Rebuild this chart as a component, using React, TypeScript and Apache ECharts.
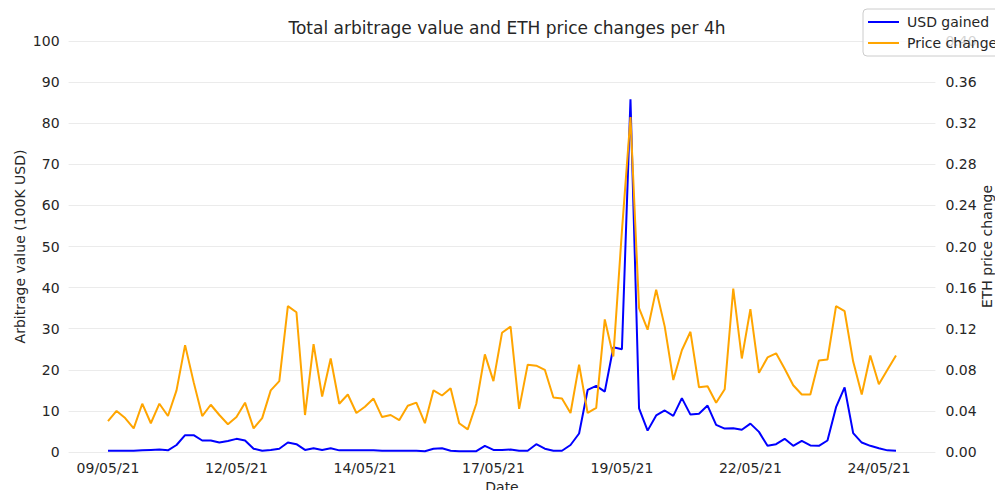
import React, { useEffect, useRef } from "react";
import * as echarts from "echarts";

// x positions are 4h steps counted from 09/05/21 12:00
const tickSteps = [0, 15, 30, 45, 60, 75, 90];
const tickLabels = ["09/05/21", "12/05/21", "14/05/21", "17/05/21", "19/05/21", "22/05/21", "24/05/21"];

// USD gained (100K USD), one value per 4h
const usdGained = [
  0.3, 0.3, 0.3, 0.3, 0.4, 0.5, 0.6, 0.4, 1.7, 4.1,
  4.1, 2.8, 2.8, 2.3, 2.7, 3.2, 2.8, 0.8, 0.3, 0.5,
  0.8, 2.3, 1.9, 0.5, 0.9, 0.5, 0.9, 0.4, 0.4, 0.4,
  0.4, 0.4, 0.3, 0.3, 0.3, 0.3, 0.3, 0.2, 0.8, 0.9,
  0.3, 0.2, 0.2, 0.2, 1.5, 0.5, 0.5, 0.6, 0.3, 0.3,
  1.9, 0.8, 0.3, 0.3, 1.7, 4.5, 15.1, 16.1, 14.7, 25.5,
  25.0, 85.8, 10.6, 5.2, 8.9, 10.1, 8.8, 13.1, 9.1, 9.3,
  11.3, 6.6, 5.7, 5.8, 5.4, 6.9, 4.9, 1.5, 1.9, 3.2,
  1.5, 2.7, 1.6, 1.5, 2.8, 10.9, 15.7, 4.6, 2.3, 1.5,
  0.9, 0.4, 0.3,
];

// ETH price change, one value per 4h
const priceChange = [
  0.030, 0.040, 0.033, 0.023, 0.047, 0.028, 0.047, 0.035, 0.060, 0.104,
  0.068, 0.035, 0.046, 0.036, 0.027, 0.034, 0.048, 0.023, 0.033, 0.060,
  0.069, 0.142, 0.136, 0.036, 0.105, 0.054, 0.091, 0.047, 0.056, 0.038,
  0.044, 0.052, 0.034, 0.036, 0.031, 0.045, 0.048, 0.028, 0.060, 0.055,
  0.062, 0.028, 0.022, 0.047, 0.095, 0.069, 0.116, 0.122, 0.042, 0.085,
  0.084, 0.080, 0.053, 0.052, 0.038, 0.085, 0.038, 0.043, 0.129, 0.093,
  0.215, 0.326, 0.140, 0.119, 0.158, 0.122, 0.070, 0.099, 0.117, 0.063,
  0.064, 0.048, 0.061, 0.159, 0.091, 0.139, 0.077, 0.092, 0.096, 0.081,
  0.065, 0.056, 0.056, 0.089, 0.090, 0.142, 0.137, 0.088, 0.056, 0.094,
  0.066, 0.080, 0.094,
];

const FONT = "DejaVu Sans";
const TXT = "#262626";

export default function App() {
  const ref = useRef<HTMLDivElement>(null);
  useEffect(() => {
    document.body.style.margin = "0";
    if (!ref.current) return;
    const chart = echarts.init(ref.current, undefined, { renderer: "svg" });
    const n = usdGained.length;
    const xMin = -0.05 * (n - 1);
    const xMax = (n - 1) * 1.05;
    chart.setOption({
      animation: false,
      backgroundColor: "#ffffff",
      textStyle: { fontFamily: FONT },
      title: {
        text: "Total arbitrage value and ETH price changes per 4h",
        left: 502,
        top: 14,
        textAlign: "center",
        textStyle: { fontFamily: FONT, fontSize: 17, fontWeight: "normal", color: TXT },
      },
      legend: {
        left: 863,
        top: 9,
        orient: "vertical",
        padding: [6, 6, 6, 5],
        itemWidth: 31,
        itemHeight: 2,
        itemGap: 7,
        backgroundColor: "rgba(255,255,255,0.8)",
        borderColor: "#cccccc",
        borderWidth: 1,
        borderRadius: 4,
        textStyle: { fontFamily: FONT, fontSize: 14, color: TXT, lineHeight: 14, padding: [0, 0, 0, 3] },
        data: [
          { name: "USD gained", icon: "rect" },
          { name: "Price change", icon: "rect" },
        ],
      },
      grid: {
        left: 68.6,
        right: 59.6,
        top: 41,
        bottom: 38,
        containLabel: false,
        outerBoundsMode: "none",
      },
      xAxis: {
        type: "value",
        min: xMin,
        max: xMax,
        name: "Date",
        nameLocation: "middle",
        nameGap: 28,
        nameMoveOverlap: false,
        nameTextStyle: { fontFamily: FONT, fontSize: 14, color: TXT },
        axisLine: { show: false },
        axisTick: { show: false },
        splitLine: { show: false },
        axisLabel: {
          customValues: tickSteps,
          fontFamily: FONT,
          fontSize: 14,
          color: TXT,
          margin: 9,
          formatter: (v: number) => {
            const k = tickSteps.findIndex((s) => Math.abs(s - v) < 1e-6);
            return k >= 0 ? tickLabels[k] : "";
          },
        },
      },
      yAxis: [
        {
          type: "value",
          min: 0,
          max: 100,
          interval: 10,
          position: "left",
          name: "Arbitrage value (100K USD)",
          nameLocation: "middle",
          nameGap: 42,
          nameMoveOverlap: false,
          nameTextStyle: { fontFamily: FONT, fontSize: 14, color: TXT },
          axisLine: { show: false },
          axisTick: { show: false },
          axisLabel: { fontFamily: FONT, fontSize: 14, color: TXT, margin: 9 },
          splitLine: { show: true, lineStyle: { color: "#ebebeb", width: 1 } },
        },
        {
          type: "value",
          min: 0,
          max: 0.4,
          interval: 0.04,
          position: "right",
          name: "ETH price change",
          nameLocation: "middle",
          nameGap: 45,
          nameMoveOverlap: false,
          nameTextStyle: { fontFamily: FONT, fontSize: 14, color: TXT },
          axisLine: { show: false },
          axisTick: { show: false },
          axisLabel: {
            fontFamily: FONT,
            fontSize: 14,
            color: TXT,
            margin: 10,
            formatter: (v: number) => v.toFixed(2),
          },
          splitLine: { show: false },
        },
      ],
      series: [
        {
          name: "USD gained",
          type: "line",
          yAxisIndex: 0,
          data: usdGained.map((v, i) => [i, v]),
          symbol: "none",
          lineStyle: { color: "#0000ff", width: 2 },
          itemStyle: { color: "#0000ff" },
          z: 2,
        },
        {
          name: "Price change",
          type: "line",
          yAxisIndex: 1,
          data: priceChange.map((v, i) => [i, v]),
          symbol: "none",
          lineStyle: { color: "#ffa500", width: 2 },
          itemStyle: { color: "#ffa500" },
          z: 3,
        },
      ],
    });
    return () => chart.dispose();
  }, []);
  return <div ref={ref} style={{ width: 995, height: 490 }} />;
}
